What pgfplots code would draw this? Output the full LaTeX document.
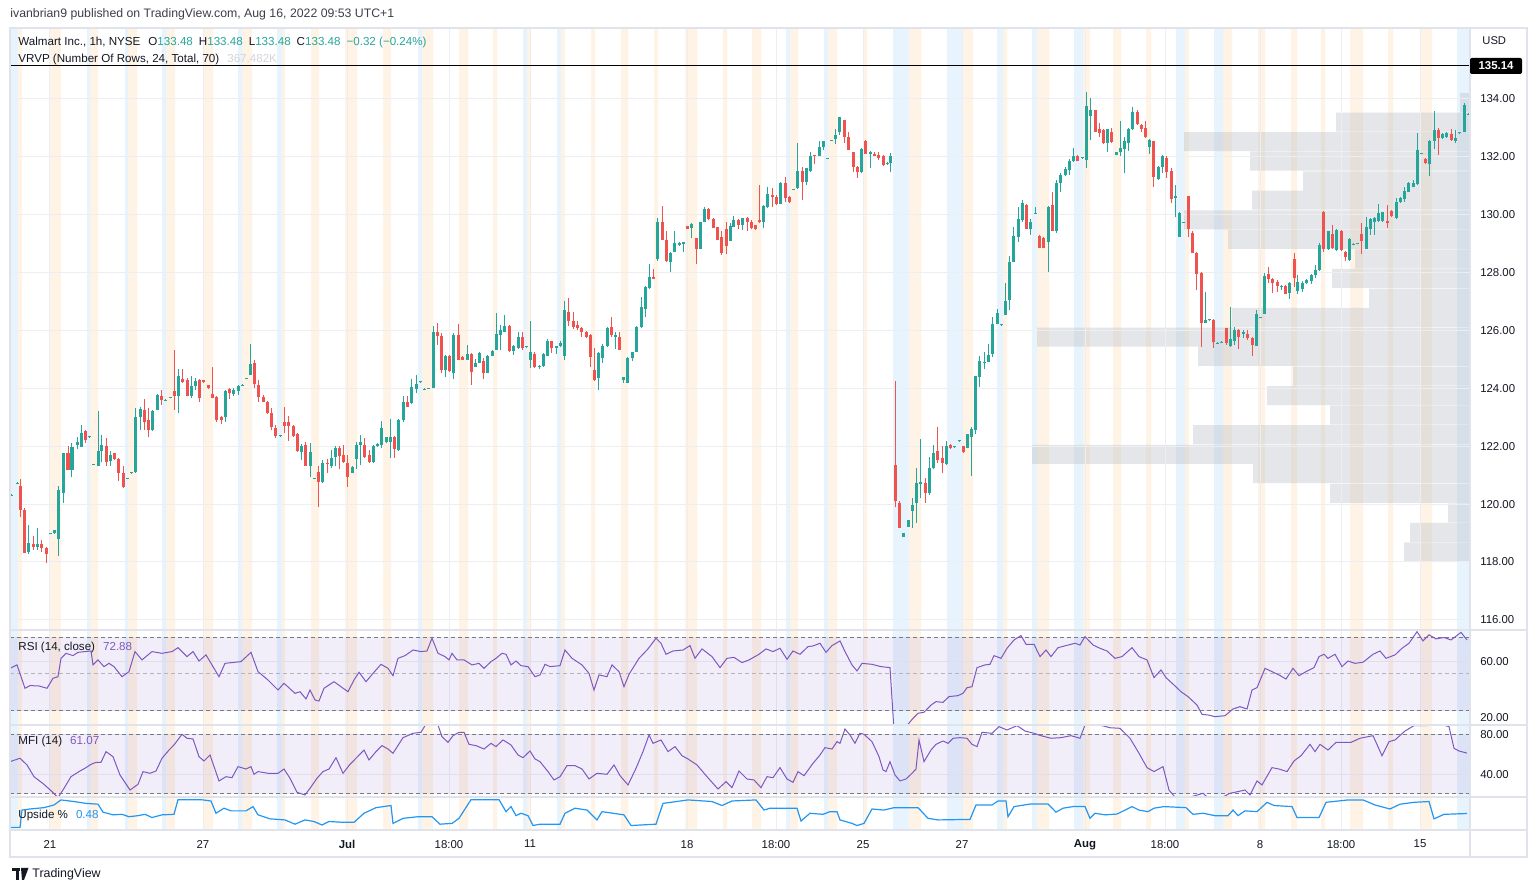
\documentclass[border=0pt]{standalone}
\usepackage{pgfplots}
\pgfplotsset{compat=1.18}
\usepackage{pgfplotstable}
\usepackage{fontspec}
\setmainfont{Liberation Sans}

\definecolor{tvup}{RGB}{38,166,154}
\definecolor{tvdown}{RGB}{239,83,80}
\definecolor{tvtext}{RGB}{19,23,34}
\definecolor{tvhead}{RGB}{60,63,72}
\definecolor{tvgray}{RGB}{120,123,134}
\definecolor{tvlight}{RGB}{178,181,190}
\definecolor{tvfaint}{RGB}{209,212,220}
\definecolor{tvgrid}{RGB}{236,238,242}
\definecolor{tvsep}{RGB}{224,227,235}
\definecolor{tvpurple}{RGB}{126,87,194}
\definecolor{tvblue}{RGB}{33,150,243}
\definecolor{stripeorange}{RGB}{254,243,228}
\definecolor{stripeblue}{RGB}{231,243,253}
\definecolor{vrvp}{RGB}{190,193,200}

% hourly candles: x position (px), open, high, low, close
\pgfplotstableread{
x o h l c
12 120.30 120.34 120.28 120.33
18 120.70 120.75 120.68 120.74
21 120.63 120.87 119.57 119.80
25 119.80 119.86 118.30 118.31
29 118.33 119.28 118.28 118.67
34 118.63 118.90 118.42 118.53
38 118.51 119.17 118.42 118.61
42 118.63 118.76 118.33 118.48
47 118.49 118.51 117.96 118.27
51 118.97 119.00 118.95 119.00
55 118.99 119.12 118.96 119.09
59 118.79 120.63 118.22 120.49
64 120.40 121.78 120.05 121.76
68 121.76 121.99 121.18 121.19
72 121.18 122.10 120.95 121.97
77 122.03 122.33 121.89 122.14
81 121.97 122.74 121.97 122.47
85 122.53 122.56 122.10 122.20
89 122.31 122.36 122.29 122.35
93 121.36 121.40 121.34 121.39
98 121.32 123.23 121.32 121.82
101 121.82 122.39 121.44 122.05
106 121.99 122.30 121.32 121.44
110 121.50 121.82 121.30 121.70
114 121.76 121.78 121.53 121.55
118 121.55 121.58 120.81 121.09
123 121.09 121.30 120.55 120.58
127 120.87 120.91 120.85 120.90
131 121.07 121.11 121.05 121.10
135 121.12 123.31 121.07 123.00
140 123.00 123.37 122.56 123.28
144 123.26 123.62 122.56 122.85
148 122.91 123.31 122.31 122.56
152 122.56 123.26 122.51 123.23
157 123.26 123.80 123.26 123.77
161 123.74 123.95 123.43 123.58
165 123.58 123.62 123.56 123.61
170 123.67 123.71 123.65 123.70
174 123.90 125.31 123.26 123.74
178 123.72 124.66 123.16 124.41
182 124.32 124.66 124.20 124.21
187 124.29 124.35 123.72 123.74
191 123.72 124.41 123.66 124.08
195 124.08 124.35 123.95 124.26
199 124.29 124.32 123.54 123.66
203 124.29 124.30 124.18 124.21
208 124.12 124.13 123.97 124.00
212 123.81 124.75 123.66 123.67
216 123.69 123.72 122.82 122.89
221 123.00 123.05 122.77 122.89
225 123.00 123.95 122.85 123.92
229 123.97 124.00 123.62 123.83
233 123.81 124.00 123.74 123.95
238 123.92 124.12 123.77 124.08
242 124.10 124.14 124.08 124.13
246 124.33 124.37 124.31 124.36
250 124.46 125.53 124.46 124.84
254 124.89 124.98 124.00 124.15
258 124.12 124.29 123.54 123.71
263 123.71 123.77 123.51 123.54
267 123.54 123.56 123.12 123.14
271 123.16 123.31 122.56 122.65
275 122.62 122.74 122.27 122.36
280 122.35 122.39 122.33 122.38
284 122.85 123.35 122.45 122.70
288 122.82 123.05 122.19 122.70
293 122.70 122.74 122.33 122.36
297 122.42 122.45 121.81 121.82
301 121.81 122.08 121.53 122.01
305 122.04 122.16 121.32 121.33
310 121.32 122.10 120.95 121.81
314 120.87 120.91 120.85 120.90
318 121.12 121.32 119.89 120.78
322 120.78 121.53 120.74 121.41
327 121.43 121.55 121.09 121.39
331 121.32 121.87 121.24 121.58
335 121.64 122.01 121.30 121.93
339 121.93 122.01 121.20 121.66
343 121.70 122.04 121.43 121.47
347 121.41 121.70 120.60 120.95
352 121.09 121.30 121.06 121.27
356 121.55 122.16 121.20 122.04
360 122.04 122.39 121.35 122.13
364 122.04 122.27 121.58 121.64
369 121.68 121.87 121.43 121.47
373 121.47 122.04 121.41 121.99
377 122.01 122.10 121.96 122.08
381 122.04 122.88 121.93 122.62
386 122.13 122.33 122.10 122.33
390 122.13 122.93 121.58 122.33
394 122.33 122.36 121.58 121.89
398 121.87 122.93 121.85 122.91
403 122.89 123.74 122.85 123.54
407 123.51 123.74 123.35 123.37
411 123.48 124.31 123.46 124.06
416 123.97 124.46 123.83 124.15
420 124.21 124.25 124.19 124.24
424 123.96 124.00 123.94 123.99
428 123.98 124.02 123.96 124.01
433 124.00 126.16 124.00 125.96
437 125.96 126.25 125.50 125.81
441 125.81 125.90 124.52 124.64
445 124.64 125.15 124.38 125.12
449 125.12 125.15 124.58 124.59
453 124.52 125.90 124.31 125.85
458 125.85 126.23 124.98 124.99
462 125.07 125.10 124.98 124.99
467 124.98 125.50 124.98 125.19
471 125.19 125.21 124.12 124.58
475 124.75 125.00 124.75 124.89
479 124.87 125.27 124.87 125.23
483 124.96 125.04 124.31 124.54
487 124.54 125.15 124.54 125.12
492 125.10 125.33 125.10 125.29
496 125.33 126.60 125.33 125.88
500 125.85 126.19 125.33 126.02
504 125.96 126.53 125.96 126.16
509 126.16 126.19 125.27 125.30
513 125.30 125.50 125.16 125.47
518 125.39 125.93 125.35 125.79
522 125.79 125.96 125.33 125.39
526 125.42 125.46 125.40 125.45
530 124.98 126.31 124.69 125.24
534 125.19 125.24 124.69 124.73
539 124.73 124.81 124.66 124.77
543 124.77 125.21 124.75 125.19
547 125.10 125.70 125.10 125.65
551 125.62 125.65 125.21 125.39
556 125.41 125.47 125.19 125.47
560 125.47 125.62 125.44 125.56
564 125.12 127.03 124.98 126.69
568 126.65 127.11 126.16 126.34
573 126.34 126.65 126.04 126.13
577 126.19 126.31 126.02 126.08
581 126.08 126.11 125.79 125.93
586 125.93 125.99 125.73 125.79
590 125.85 125.88 124.75 125.07
594 124.64 125.39 124.27 124.28
598 124.35 125.27 123.95 125.21
602 125.04 125.53 124.87 125.47
607 125.47 126.11 125.44 126.08
611 126.11 126.46 125.79 125.85
615 125.79 125.93 125.35 125.85
619 125.79 125.93 125.33 125.34
623 124.29 124.38 124.20 124.38
627 124.20 125.07 124.18 125.04
632 125.04 125.27 124.96 125.27
636 125.27 126.16 125.27 126.11
641 126.11 127.17 126.08 126.80
645 126.74 127.52 126.48 127.49
649 127.46 128.30 127.42 127.84
653 127.84 128.11 127.77 127.77
657 128.46 129.88 128.41 129.76
662 129.76 130.30 129.13 129.14
666 129.11 129.42 128.38 128.39
670 128.38 128.72 128.03 128.69
674 128.72 129.42 128.72 129.01
679 128.95 129.07 128.92 129.01
683 129.00 129.07 128.72 129.07
687 129.61 129.62 129.50 129.50
691 129.53 129.71 129.19 129.68
696 129.19 129.20 128.30 128.81
700 128.81 129.76 128.81 129.76
704 129.76 130.28 129.76 130.19
708 130.19 130.22 129.80 129.84
713 129.84 129.88 129.53 129.54
717 129.56 129.59 129.13 129.14
721 129.22 129.42 128.61 128.67
726 129.50 129.76 128.64 128.90
730 129.10 129.70 129.10 129.61
733 129.59 129.96 129.59 129.80
738 129.80 129.84 129.50 129.65
742 129.65 129.88 129.47 129.88
747 129.88 129.93 129.45 129.73
751 129.76 129.80 129.50 129.53
755 129.65 129.66 129.47 129.50
759 129.82 131.03 129.70 129.73
763 129.76 130.34 129.53 130.30
767 130.28 130.95 130.22 130.72
772 130.68 130.91 130.28 130.62
776 130.62 130.68 130.34 130.37
780 130.37 131.14 130.37 131.11
785 131.11 131.29 130.45 130.57
789 130.62 130.65 130.42 130.43
793 130.87 130.90 130.85 130.89
797 130.91 132.47 130.88 131.52
802 131.52 131.66 130.51 131.14
806 131.14 131.60 131.03 131.60
810 131.52 132.18 131.49 132.01
814 132.06 132.07 131.76 132.01
819 132.01 132.53 132.01 132.35
823 132.35 132.56 132.24 132.53
827 131.94 131.97 131.92 131.96
831 132.55 132.58 132.53 132.57
835 132.61 132.95 132.44 132.76
839 132.87 133.37 132.76 133.37
844 133.27 133.28 132.47 132.70
848 132.70 132.87 132.24 132.25
853 132.15 132.18 131.49 131.66
857 131.66 131.67 131.26 131.49
861 131.49 132.30 131.45 132.26
865 132.56 132.57 132.10 132.10
870 132.10 132.21 131.60 132.18
874 132.10 132.15 132.03 132.04
878 132.06 132.15 131.89 131.95
883 132.03 132.06 131.69 131.72
887 131.76 131.83 131.72 131.79
890 131.78 132.12 131.49 132.01
895 121.35 124.27 119.89 120.09
899 120.05 120.09 119.17 119.18
903 118.88 119.00 118.88 119.00
908 119.20 119.46 119.20 119.46
912 119.77 120.20 119.17 119.97
916 120.05 121.24 119.36 120.72
920 120.70 122.24 120.20 120.75
925 120.72 120.89 120.05 120.37
929 120.37 121.62 120.32 121.24
933 121.24 122.05 121.20 121.76
937 121.82 122.65 121.41 121.53
942 121.58 122.01 121.07 121.41
946 121.38 122.19 121.35 121.99
950 122.05 122.08 121.90 121.93
954 121.97 122.01 121.95 122.00
959 122.17 122.21 122.15 122.20
963 121.99 122.01 121.78 121.81
967 121.93 122.43 121.93 122.43
971 122.33 122.65 120.97 122.59
975 122.56 124.41 122.43 124.41
979 124.38 125.10 124.06 124.96
984 124.87 125.27 124.66 124.92
988 124.92 125.53 124.92 125.15
992 125.19 126.46 125.07 126.23
997 126.23 126.73 126.23 126.60
1001 126.18 126.22 126.16 126.21
1005 126.54 127.63 126.54 127.03
1009 127.05 128.58 126.71 128.38
1013 128.35 129.59 128.35 129.27
1018 129.24 130.28 129.04 129.84
1022 129.82 130.51 129.73 130.42
1026 130.34 130.37 129.50 129.50
1030 129.50 129.84 129.30 129.76
1035 130.03 130.28 130.01 130.06
1039 129.27 129.30 128.84 128.85
1043 129.19 129.22 128.84 128.85
1048 129.04 130.30 128.03 130.26
1052 130.34 130.80 129.42 129.45
1056 129.42 131.20 129.38 131.11
1060 131.11 131.43 130.80 131.37
1065 131.37 131.64 131.32 131.57
1069 131.55 131.91 131.37 131.87
1073 131.87 132.30 131.83 132.03
1077 132.03 132.06 131.84 131.85
1082 131.96 132.00 131.94 131.99
1086 131.88 134.23 131.60 133.74
1090 133.41 134.02 132.58 133.60
1095 133.60 133.62 132.84 132.87
1099 132.95 133.16 132.70 132.81
1103 132.93 132.95 132.45 132.47
1107 132.47 132.95 132.18 132.95
1111 132.84 132.99 132.49 132.50
1116 132.07 132.18 132.07 132.18
1120 132.15 133.22 132.01 132.30
1124 132.26 132.70 131.45 132.53
1128 132.49 132.99 132.21 132.95
1132 132.95 133.71 132.93 133.53
1137 133.53 133.60 133.10 133.14
1141 133.10 133.14 132.87 132.95
1145 132.99 133.25 132.64 132.68
1149 132.35 132.61 132.10 132.58
1153 132.53 132.56 130.97 131.29
1158 131.22 131.68 131.20 131.66
1162 131.64 132.07 131.45 132.03
1166 131.95 132.01 131.26 131.49
1171 131.52 131.60 130.40 130.53
1175 130.57 131.03 129.91 130.65
1179 129.24 130.10 129.24 130.07
1183 129.72 129.76 129.70 129.75
1188 130.63 130.65 129.24 129.50
1192 129.38 129.42 128.67 128.69
1196 128.69 128.72 127.38 127.95
1201 128.00 128.03 125.42 126.25
1205 126.27 127.34 126.27 126.36
1209 126.35 126.39 126.33 126.38
1213 126.36 126.39 125.38 125.61
1217 125.55 125.59 125.53 125.58
1221 125.58 125.62 125.56 125.61
1226 126.07 126.10 125.50 125.56
1230 125.46 126.80 125.44 125.70
1234 125.65 126.11 125.50 126.02
1238 126.02 126.04 125.35 125.79
1243 125.88 126.02 125.73 125.93
1247 125.88 126.02 125.67 125.73
1252 125.73 125.76 125.12 125.50
1256 125.47 126.69 125.47 126.57
1260 126.44 126.48 126.42 126.47
1264 126.57 128.00 126.57 127.88
1268 127.95 128.18 127.63 127.77
1272 127.77 127.80 127.31 127.63
1277 127.69 127.75 127.34 127.54
1281 127.50 127.58 127.40 127.53
1285 127.54 127.57 127.26 127.27
1289 127.29 127.69 127.08 127.65
1294 128.47 128.68 127.50 127.80
1297 127.35 127.92 127.25 127.69
1302 127.42 127.72 127.32 127.65
1306 127.63 127.78 127.60 127.75
1311 127.71 127.95 127.60 127.92
1315 127.90 128.26 127.80 128.09
1319 128.09 129.01 128.06 128.95
1323 130.08 130.13 128.72 128.82
1328 128.82 129.44 128.78 129.42
1332 129.32 129.65 128.82 128.84
1336 128.78 129.51 128.75 129.47
1341 129.44 129.47 128.75 128.78
1345 128.72 128.75 128.40 128.55
1349 128.44 129.19 128.40 129.16
1353 128.97 129.03 128.95 129.00
1357 128.99 129.03 128.97 129.02
1361 129.32 129.70 128.63 129.09
1366 128.82 129.93 128.82 129.59
1370 129.51 129.90 129.30 129.85
1374 129.76 129.93 129.30 129.88
1378 129.78 130.36 129.76 130.05
1382 129.78 130.10 129.76 130.08
1387 129.78 130.34 129.53 129.70
1391 130.13 130.16 129.93 129.97
1396 129.88 130.59 129.85 130.45
1400 130.45 130.62 130.42 130.59
1404 130.54 130.94 130.45 130.82
1408 130.80 131.12 130.77 131.09
1413 130.97 131.20 130.94 131.09
1417 131.05 132.81 131.03 132.24
1421 132.10 132.14 132.08 132.13
1425 131.93 131.95 131.76 131.78
1429 131.74 132.58 131.32 132.55
1434 132.53 133.58 132.27 132.93
1438 132.93 133.01 132.06 132.66
1442 132.66 132.81 132.61 132.78
1446 132.70 132.84 132.66 132.81
1451 132.78 132.96 132.55 132.58
1455 132.55 132.93 132.47 132.64
1459 132.81 132.85 132.79 132.84
1464 132.87 133.85 132.87 133.80
1468 133.46 133.50 133.44 133.48
}\candles

% volume profile rows: row centre price, bar length (px from right edge)
\pgfplotstableread{
p len
133.87 10
133.20 134
132.52 286
131.85 220
131.17 167
130.50 218
129.82 286
129.15 242
128.47 115
127.80 138
127.12 101
126.45 238
125.77 433
125.10 272
124.42 177
123.75 203
123.07 140
122.40 277
121.72 438
121.05 217
120.37 140
119.70 22
119.02 60
118.35 66
}\vrvprows

\pgfplotsset{
  tvpane/.style={
    scale only axis, width=730pt, xmin=10, xmax=1470, anchor=south west,
    axis line style={draw=none}, tick style={draw=none},
    xmajorgrids, grid style={tvgrid, line width=0.5pt},
    xtick={50,203,347,449,530,687,776,863,962,1085,1165,1260,1341,1420},
    xticklabels={},
    ticklabel style={font=\fontsize{5.7}{6}\selectfont, text=tvtext},
    yticklabel pos=right, yticklabel style={anchor=west, xshift=1.6pt},
    /pgf/number format/assume math mode=true,
    yticklabel={\pgfmathprintnumber[fixed,fixed zerofill,precision=2]{\tick}},
  },
  wick/.style={draw=none, mark=none, forget plot,
    error bars/y dir=plus, error bars/y explicit, error bars/error mark=none,
    error bars/error bar style={draw=#1, line width=0.5pt}},
  body/.style={draw=none, mark=none, forget plot,
    error bars/y dir=plus, error bars/y explicit, error bars/error mark=none,
    error bars/error bar style={draw=#1, line width=1.5pt}},
}

\begin{document}
\begin{tikzpicture}
\path[use as bounding box] (0,0) rectangle (768pt,446pt);

% session shading behind all panes
\begin{axis}[scale only axis, width=730pt, height=401pt, at={(5pt,31pt)}, anchor=south west,
  xmin=10, xmax=1470, ymin=0, ymax=1, hide axis]
\addplot[const plot, draw=none, fill=stripeorange] coordinates {(10,0)
(18,1)(22,0)(50,1)(61,0)(90,1)(98,0)(128,1)(137,0)(166,1)(175,0)(203,1)(213,0)
(242,1)(252,0)(282,1)(285,0)(311,1)(319,0)(345,1)(357,0)(383,1)(391,0)(422,1)(433,0)
(459,1)(468,0)(493,1)(497,0)(527,1)(531,0)(561,1)(565,0)(591,1)(595,0)(621,1)(628,0)
(654,1)(658,0)(685,1)(697,0)(723,1)(727,0)(752,1)(761,0)(790,1)(798,0)(828,1)(837,0)
(863,1)(867,0)(909,1)(921,0)(962,1)(973,0)(1003,1)(1007,0)(1037,1)(1049,0)(1083,1)(1090,0)
(1113,1)(1121,0)(1146,1)(1151,0)(1185,1)(1189,0)(1223,1)(1232,0)(1258,1)(1265,0)
(1291,1)(1297,0)(1321,1)(1325,0)(1350,1)(1363,0)(1388,1)(1393,0)(1420,1)(1432,0)(1470,0)} \closedcycle;
\addplot[const plot, draw=none, fill=stripeblue] coordinates {
(10,1)(18,0)(87,1)(90,0)(125,1)(128,0)(162,1)(166,0)(238,1)(242,0)(277,1)(282,0)
(418,1)(422,0)(523,1)(527,0)(557,1)(561,0)(786,1)(790,0)(824,1)(828,0)(893,1)(909,0)
(947,1)(962,0)(997,1)(1003,0)(1032,1)(1037,0)(1074,1)(1083,0)(1176,1)(1185,0)
(1214,1)(1223,0)(1457,1)(1470,0)} \closedcycle;
\end{axis}

% visible range volume profile
\begin{axis}[scale only axis, width=730pt, height=301pt, at={(5pt,131pt)}, anchor=south west,
  xmin=0, xmax=1460, x dir=reverse, ymin=115.65, ymax=136.45, hide axis]
\addplot[xbar, bar width=0.657, bar shift=0pt, draw=none, fill=vrvp, fill opacity=0.4]
  table[x=len, y=p] {\vrvprows};
\end{axis}

% price pane
\begin{axis}[tvpane, height=301pt, at={(5pt,131pt)},
  ymin=115.65, ymax=136.45, ytick={116,118,...,134}, ymajorgrids]
\addplot[black, line width=0.6pt] coordinates {(10,135.14) (1470,135.14)};
\addplot[wick=tvup, restrict expr to domain={\thisrow{c}-\thisrow{o}}{0:100}]
  table[x=x, y=l, y error expr=\thisrow{h}-\thisrow{l}] {\candles};
\addplot[wick=tvdown, restrict expr to domain={\thisrow{c}-\thisrow{o}}{-100:-0.0001}]
  table[x=x, y=l, y error expr=\thisrow{h}-\thisrow{l}] {\candles};
\addplot[body=tvup, restrict expr to domain={\thisrow{c}-\thisrow{o}}{0:100}]
  table[x=x, y=o, y error expr=\thisrow{c}-\thisrow{o}] {\candles};
\addplot[body=tvdown, restrict expr to domain={\thisrow{c}-\thisrow{o}}{-100:-0.0001}]
  table[x=x, y=c, y error expr=\thisrow{o}-\thisrow{c}] {\candles};
\end{axis}

% RSI pane
\begin{axis}[tvpane, height=47.5pt, at={(5pt,83.5pt)}, ymin=8.31, ymax=85.97,
  ytick={60}, extra y ticks={20}, extra y tick style={yticklabel style={yshift=-3.5pt}}, ymajorgrids]
\fill[tvpurple, fill opacity=0.1] (axis cs:10,20) rectangle (axis cs:1470,80);
\draw[tvgray, line width=0.5pt, dash pattern=on 2pt off 1.5pt] (axis cs:10,80) -- (axis cs:1470,80);
\draw[tvlight, line width=0.5pt, dash pattern=on 2pt off 1.5pt] (axis cs:10,50) -- (axis cs:1470,50);
\draw[tvgray, line width=0.5pt, dash pattern=on 2pt off 1.5pt] (axis cs:10,20) -- (axis cs:1470,20);
\addplot[tvpurple, line width=0.5pt] coordinates {
(10,54.6)(17,57.4)(25,38.3)(30,40.5)(39,40.2)(47,38.3)(53,46.5)(58,47.8)(61,62.8)(66,66.9)
(73,65.0)(78,67.7)(85,68.3)(91,68.8)(93,57.4)(98,61.5)(104,56.0)(109,58.7)(114,56.0)(122,47.8)
(129,51.9)(135,68.3)(142,61.5)(152,68.3)(162,66.9)(172,68.3)(178,71.5)(187,64.2)(193,68.3)(199,60.6)
(206,65.6)(219,47.8)(225,58.7)(241,60.1)(251,67.7)(258,51.9)(268,45.1)(278,36.9)(284,42.4)(295,34.2)
(300,35.5)(306,29.6)(310,36.9)(315,28.7)(319,27.9)(324,38.3)(334,43.7)(341,39.6)(348,35.5)(354,45.1)
(359,51.4)(366,43.7)(373,50.5)(381,57.9)(388,54.6)(393,48.6)(398,62.8)(405,65.0)(413,69.6)(421,68.3)
(427,68.8)(432,79.2)(438,66.9)(445,64.2)(449,61.5)(452,66.9)(457,61.5)(464,61.5)(472,57.4)(479,58.7)
(484,54.6)(491,60.1)(496,62.8)(502,66.9)(506,66.1)(511,57.4)(516,60.6)(521,56.8)(528,56.0)(535,47.8)
(540,49.2)(545,57.9)(550,56.0)(560,56.8)(565,69.6)(572,62.8)(582,57.4)(589,50.5)(594,36.9)(599,49.2)
(607,47.8)(612,57.4)(619,51.9)(624,39.6)(629,49.7)(639,62.8)(648,70.5)(656,79.2)(661,75.1)(666,66.1)
(673,68.8)(683,69.6)(690,73.2)(695,62.8)(702,70.5)(712,64.2)(720,55.2)(727,62.8)(734,63.6)(742,59.3)
(749,61.5)(759,66.1)(766,70.5)(773,68.3)(780,71.0)(787,62.0)(793,68.8)(800,66.1)(808,72.4)(813,72.9)
(820,75.1)(826,67.7)(832,73.2)(840,77.0)(845,68.3)(852,57.4)(857,52.5)(862,58.7)(872,57.9)(881,56.0)
(890,55.2)(894,4)(904,4)(908,8.9)(913,13.7)(918,17.9)(924,18.7)(931,24.6)(936,27.4)(943,26.8)
(949,31.5)(958,32.3)(963,34.2)(967,38.8)(972,39.6)(977,55.2)(985,57.4)(990,57.9)(994,65.0)(1001,62.8)
(1007,71.0)(1014,77.8)(1021,81.4)(1026,74.3)(1034,74.3)(1040,64.2)(1046,69.6)(1051,64.2)(1058,71.5)(1066,73.2)
(1075,75.1)(1080,73.7)(1085,80.5)(1093,73.7)(1100,71.0)(1107,68.8)(1115,62.8)(1122,64.2)(1132,71.5)(1139,64.2)
(1147,61.5)(1154,47.0)(1161,53.3)(1166,47.0)(1174,41.0)(1181,35.5)(1188,31.5)(1197,24.6)(1202,17.0)(1208,16.5)
(1215,15.1)(1225,15.9)(1233,21.4)(1240,23.3)(1247,21.4)(1252,36.9)(1257,38.8)(1265,54.6)(1272,51.9)(1279,49.2)
(1286,45.9)(1293,54.6)(1299,48.6)(1306,51.9)(1314,55.2)(1319,64.2)(1324,66.1)(1328,62.8)(1335,66.1)(1342,56.0)
(1348,60.6)(1355,58.7)(1363,59.6)(1373,66.1)(1380,68.8)(1386,62.8)(1395,65.6)(1402,71.0)(1409,75.1)(1417,84.6)
(1423,77.0)(1429,82.0)(1436,78.7)(1444,79.8)(1451,77.8)(1461,84.0)(1467,77.8)};
\end{axis}

% MFI pane
\begin{axis}[tvpane, height=36pt, at={(5pt,47.5pt)}, ymin=16.98, ymax=89.35,
  ytick={80,40}, ymajorgrids]
\fill[tvpurple, fill opacity=0.1] (axis cs:10,20) rectangle (axis cs:1470,80);
\draw[tvgray, line width=0.5pt, dash pattern=on 2pt off 1.5pt] (axis cs:10,80) -- (axis cs:1470,80);
\draw[tvgray, line width=0.5pt, dash pattern=on 2pt off 1.5pt] (axis cs:10,20) -- (axis cs:1470,20);
\addplot[tvpurple, line width=0.5pt] coordinates {
(10,52.5)(20,55.9)(27,49.2)(34,37.4)(44,29.7)(52,22.4)(58,16.3)(64,25.7)(71,37.4)(79,42.5)
(86,46.5)(91,49.8)(96,51.8)(101,51.8)(106,62.6)(113,57.5)(120,39.1)(130,24.0)(138,29.7)(143,42.5)
(150,40.8)(156,43.1)(162,55.9)(169,64.2)(174,69.3)(182,80.0)(187,76.0)(193,75.3)(199,57.5)(204,53.2)
(210,59.2)(219,33.1)(226,37.4)(232,36.4)(238,47.5)(246,45.1)(251,47.5)(254,39.8)(258,42.5)(268,40.8)
(278,40.8)(284,45.1)(290,35.8)(297,21.7)(305,19.0)(310,25.7)(317,35.8)(323,42.5)(329,45.1)(336,56.5)
(343,40.8)(350,49.8)(356,55.9)(364,64.2)(369,54.2)(376,62.6)(382,68.6)(388,65.2)(393,60.9)(403,76.6)
(413,81.0)(421,82.0)(427,92)(437,92)(442,77.6)(448,71.9)(453,78.6)(459,82.0)(464,82.0)(469,69.9)
(476,68.6)(484,65.2)(491,70.9)(496,67.6)(503,74.3)(511,69.3)(518,59.2)(523,56.5)(530,63.2)(535,55.2)
(540,52.5)(548,42.5)(554,34.1)(560,37.4)(567,48.5)(575,48.5)(582,45.1)(589,35.1)(597,40.8)(607,39.8)
(614,49.2)(620,38.4)(628,29.1)(636,45.8)(643,62.6)(649,79.3)(653,70.9)(661,74.3)(668,62.6)(675,67.6)
(682,58.5)(688,55.2)(697,49.2)(707,37.4)(718,25.0)(726,32.4)(732,26.4)(739,43.1)(747,35.1)(754,34.1)
(761,26.4)(767,37.4)(773,36.4)(780,46.5)(787,35.1)(793,31.7)(798,42.5)(804,38.4)(813,50.8)(820,59.2)
(825,66.6)(832,65.2)(837,72.6)(840,70.9)(845,85.3)(850,79.3)(855,70.9)(860,81.0)(864,80.0)(872,72.6)
(879,57.5)(883,44.1)(886,42.5)(890,52.5)(895,39.1)(900,33.1)(906,35.1)(912,40.8)(916,45.1)(919,74.3)
(924,52.5)(931,64.2)(936,69.9)(943,73.3)(948,70.9)(953,76.0)(960,76.6)(967,76.0)(972,69.9)(977,67.6)
(982,82.0)(992,81.0)(999,87.7)(1007,84.3)(1017,88.7)(1025,83.3)(1034,81.0)(1041,78.6)(1051,76.0)(1061,76.6)
(1071,78.6)(1080,76.0)(1086,92)(1102,88.7)(1110,86.6)(1120,86.0)(1130,76.0)(1139,60.9)(1147,46.5)(1154,42.5)
(1163,47.5)(1169,24.0)(1176,15.6)(1184,14.0)(1188,16.3)(1203,20.7)(1208,16.3)(1220,15.6)(1230,20.7)(1238,22.4)
(1245,24.0)(1250,19.0)(1257,33.1)(1262,29.1)(1272,46.5)(1279,45.1)(1287,42.5)(1294,53.2)(1301,58.5)(1310,69.9)
(1315,62.6)(1320,69.9)(1328,64.2)(1336,71.9)(1351,71.9)(1360,76.0)(1373,78.6)(1382,58.5)(1389,72.6)(1395,74.3)
(1405,83.3)(1414,88.7)(1427,88.7)(1434,92)(1449,87.7)(1454,65.9)(1459,63.2)(1467,61.1)};
\end{axis}

% Upside % pane with the time labels
\begin{axis}[tvpane, height=16.5pt, at={(5pt,31pt)}, ymin=-0.1375, ymax=1.10, ytick=\empty,
  xticklabels={21,27,\textbf{Jul},18:00,11,18,18:00,25,27,\textbf{Aug},18:00,8,18:00,15},
  xticklabel style={yshift=-1.5pt}]
\addplot[tvblue, line width=0.6pt] coordinates {
(10,-0.04)(20,-0.04)(22,0.61)(30,0.65)(44,0.70)(54,0.80)(61,0.99)(74,0.93)(86,0.86)(98,0.83)
(103,0.53)(113,0.43)(122,0.45)(129,0.36)(138,0.40)(145,0.45)(152,0.33)(162,0.43)(174,0.45)(178,1.0)
(201,1.0)(211,0.95)(216,0.49)(224,0.68)(231,0.58)(246,0.58)(253,0.74)(258,0.43)(270,0.28)(285,0.24)
(295,0.08)(305,0.24)(314,0.18)(322,0.05)(329,0.18)(344,0.15)(354,0.15)(364,0.49)(376,0.70)(391,0.78)
(393,0.11)(403,0.30)(418,0.36)(432,0.36)(440,0.08)(452,0.11)(459,0.30)(471,1.0)(499,1.0)(506,0.55)
(511,0.74)(516,0.40)(521,0.49)(528,0.40)(533,0.03)(540,0.08)(560,0.08)(565,0.49)(575,0.68)(587,0.61)
(597,0.24)(602,0.55)(624,0.43)(631,0.03)(656,0.08)(663,0.86)(688,0.99)(712,0.93)(722,0.78)(732,0.95)
(756,0.99)(764,0.61)(770,0.68)(781,0.68)(797,0.68)(801,0.20)(810,0.49)(823,0.45)(830,0.55)(837,0.55)
(840,0.24)(852,0.11)(857,0.03)(864,0.11)(872,0.65)(884,0.61)(894,0.70)(918,0.70)(928,0.30)(938,0.24)
(970,0.26)(976,0.80)(992,0.80)(998,0.95)(1006,0.95)(1008,0.36)(1014,0.74)(1031,0.84)(1048,0.84)(1056,0.53)
(1063,0.68)(1073,0.74)(1085,0.74)(1090,0.30)(1095,0.49)(1105,0.43)(1117,0.46)(1132,0.74)(1139,0.61)(1148,0.55)
(1154,0.68)(1164,0.74)(1186,0.70)(1193,0.45)(1203,0.49)(1215,0.40)(1228,0.40)(1233,0.61)(1238,0.40)(1245,0.58)
(1257,0.55)(1267,0.90)(1274,0.78)(1292,0.74)(1297,0.33)(1319,0.33)(1326,0.90)(1348,0.99)(1363,0.99)(1375,0.80)
(1390,0.65)(1400,0.83)(1414,0.90)(1429,0.93)(1434,0.28)(1444,0.45)(1467,0.48)};
\end{axis}

% frame, separators and texts, in image pixels
\begin{scope}[x=0.5pt, y=-0.5pt, shift={(0pt,446pt)}]
\draw[tvsep, line width=0.6pt] (10,28) rectangle (1527,857);
\draw[tvsep, line width=1pt] (10,630) -- (1527,630);
\draw[tvsep, line width=1pt] (10,725) -- (1527,725);
\draw[tvsep, line width=1pt] (10,797) -- (1527,797);
\draw[tvsep, line width=1pt] (10,830) -- (1527,830);
\draw[tvsep, line width=0.6pt] (1470,28) -- (1470,857);

\node[anchor=west, inner sep=0pt, font=\fontsize{6.15}{7}\selectfont, text=tvhead] at (10,14)
  {ivanbrian9 published on TradingView.com, Aug 16, 2022 09:53 UTC+1};
\node[anchor=west, inner sep=0pt, font=\fontsize{5.8}{6.5}\selectfont, text=tvtext] at (18,42.5)
  {Walmart Inc., 1h, NYSE\hspace{4pt}O\textcolor{tvup}{133.48}\hspace{3pt}H\textcolor{tvup}{133.48}\hspace{3pt}L\textcolor{tvup}{133.48}\hspace{3pt}C\textcolor{tvup}{133.48}\hspace{3pt}\textcolor{tvup}{−0.32 (−0.24\%)}};
\node[anchor=west, inner sep=0pt, font=\fontsize{5.8}{6.5}\selectfont, text=tvtext] at (18,59.5)
  {VRVP (Number Of Rows, 24, Total, 70)\hspace{4pt}\textcolor{tvfaint}{367.482K}};
\node[anchor=west, inner sep=0pt, font=\fontsize{5.6}{6.5}\selectfont, text=tvtext] at (1482,41) {USD};
\node[fill=black, text=white, rounded corners=1pt, inner sep=0pt, minimum width=26pt, minimum height=8pt,
  font=\bfseries\fontsize{5.7}{6}\selectfont] at (1496,66) {135.14};

\node[anchor=west, inner sep=0pt, font=\fontsize{5.8}{6.5}\selectfont, text=tvtext] at (18,647.5)
  {RSI (14, close)\hspace{4pt}\textcolor{tvpurple}{72.88}};
\node[anchor=west, inner sep=0pt, font=\fontsize{5.8}{6.5}\selectfont, text=tvtext] at (18,741.5)
  {MFI (14)\hspace{4pt}\textcolor{tvpurple}{61.07}};
\node[anchor=west, inner sep=0pt, font=\fontsize{5.8}{6.5}\selectfont, text=tvtext] at (18,815.5)
  {Upside \%\hspace{4pt}\textcolor{tvblue}{0.48}};

% TradingView mark and name
\fill[tvtext] (12,868) rectangle (20,871.5);
\fill[tvtext] (15.5,868) rectangle (19,880);
\fill[tvtext] (21,868) -- (28.5,868) -- (24,880) -- (22,880) -- cycle;
\node[anchor=west, inner sep=0pt, font=\fontsize{6.2}{7}\selectfont, text=tvtext] at (32,874.5) {TradingView};
\end{scope}
\end{tikzpicture}
\end{document}
